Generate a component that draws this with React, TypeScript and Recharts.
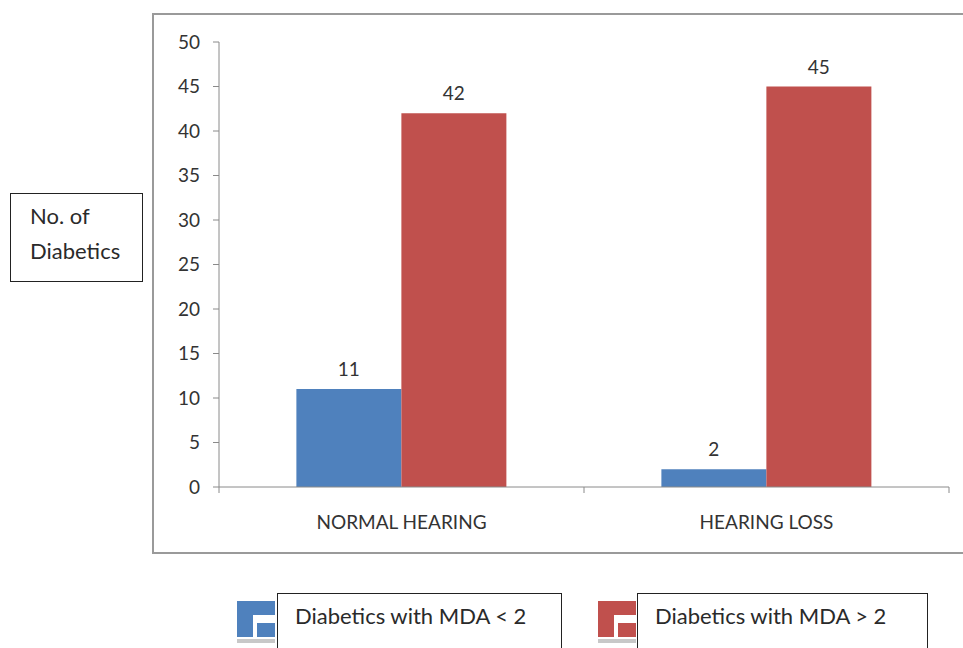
import React from 'react';
import { BarChart, Bar, XAxis, YAxis, LabelList } from 'recharts';

const categories = ['NORMAL HEARING', 'HEARING LOSS'];
const mdaBelow2 = [11, 2];
const mdaAbove2 = [42, 45];
const seriesNames = ['Diabetics with MDA < 2', 'Diabetics with MDA > 2'];
const seriesColors = ['#4F81BD', '#C0504D'];
const yTicks = [0, 5, 10, 15, 20, 25, 30, 35, 40, 45, 50];
const yAxisTitle = ['No. of', 'Diabetics'];

const data = categories.map((c, i) => ({ name: c, a: mdaBelow2[i], b: mdaAbove2[i] }));

const W = 963;
const H = 648;
const MARGIN = { top: 42, right: 14, bottom: 121, left: 159 };
const YW = 60;
const PLOT_LEFT = MARGIN.left + YW;
const PLOT_RIGHT = W - MARGIN.right;
const PLOT_BOTTOM = H - MARGIN.bottom - 40;
const BAND = (PLOT_RIGHT - PLOT_LEFT) / categories.length;
const FONT = 'Lato, "Open Sans", sans-serif';
const AXIS_COLOR = '#8a8a8a';
const TEXT_COLOR = '#333333';

const XTick = (props: any) => {
  const { x, payload, index } = props;
  const lines = [
    <line key="l" x1={x - BAND / 2} x2={x - BAND / 2} y1={PLOT_BOTTOM} y2={PLOT_BOTTOM + 6} stroke={AXIS_COLOR} strokeWidth={1} />,
  ];
  if (index === categories.length - 1) {
    lines.push(
      <line key="r" x1={x + BAND / 2} x2={x + BAND / 2} y1={PLOT_BOTTOM} y2={PLOT_BOTTOM + 6} stroke={AXIS_COLOR} strokeWidth={1} />
    );
  }
  return (
    <g>
      {lines}
      <text x={x} y={PLOT_BOTTOM + 42} textAnchor="middle" fill={TEXT_COLOR} fontSize={19} fontFamily={FONT}>
        {payload.value}
      </text>
    </g>
  );
};

const LegendIcon = ({ color }: { color: string }) => (
  <div style={{ position: 'relative', width: 38, height: 42 }}>
    <div style={{ position: 'absolute', left: 0, top: 0, width: 38, height: 36, background: color }} />
    <div style={{ position: 'absolute', left: 16, top: 14, width: 22, height: 8, background: '#ffffff' }} />
    <div style={{ position: 'absolute', left: 16, top: 14, width: 4, height: 22, background: '#ffffff' }} />
    <div style={{ position: 'absolute', left: 0, top: 38, width: 38, height: 4, background: '#c8c8c8' }} />
  </div>
);

export default function App() {
  const legendPos = [
    { icon: 237, box: 277, boxW: 285 },
    { icon: 598, box: 637, boxW: 291 },
  ];
  return (
    <div style={{ position: 'absolute', left: 0, top: 0, width: W, height: H, overflow: 'hidden', background: '#ffffff', fontFamily: FONT }}>
      <div style={{ position: 'absolute', left: 152, top: 13, width: 840, height: 537, border: '2px solid #9a9a9a' }} />
      <div
        style={{
          position: 'absolute', left: 10, top: 193, width: 133, height: 89, border: '1.5px solid #222',
          boxSizing: 'border-box', background: '#fff',
        }}
      >
        {yAxisTitle.map((t, i) => (
          <div key={i} style={{ position: 'absolute', left: 19, top: 8 + i * 35, fontSize: 22, color: '#2a2a2a', whiteSpace: 'nowrap' }}>
            {t}
          </div>
        ))}
      </div>
      <div style={{ position: 'absolute', left: 0, top: 0 }}>
        <BarChart width={W} height={H} data={data} margin={MARGIN} barCategoryGap="21.2%" barGap={0}>
          <YAxis
            width={YW}
            domain={[0, 50]}
            ticks={yTicks}
            interval={0}
            tickSize={6}
            tickMargin={13}
            axisLine={{ stroke: AXIS_COLOR }}
            tickLine={{ stroke: AXIS_COLOR }}
            tick={{ fill: TEXT_COLOR, fontSize: 19, fontFamily: FONT }}
          />
          <XAxis
            dataKey="name"
            height={40}
            tickLine={false}
            axisLine={{ stroke: AXIS_COLOR }}
            tick={<XTick />}
            interval={0}
          />
          <Bar dataKey="a" name={seriesNames[0]} fill={seriesColors[0]} isAnimationActive={false}>
            <LabelList dataKey="a" position="top" offset={13} fill={TEXT_COLOR} fontSize={19} fontFamily={FONT} />
          </Bar>
          <Bar dataKey="b" name={seriesNames[1]} fill={seriesColors[1]} isAnimationActive={false}>
            <LabelList dataKey="b" position="top" offset={13} fill={TEXT_COLOR} fontSize={19} fontFamily={FONT} />
          </Bar>
        </BarChart>
      </div>
      {seriesNames.map((n, i) => (
        <React.Fragment key={n}>
          <div style={{ position: 'absolute', left: legendPos[i].icon, top: 601 }}>
            <LegendIcon color={seriesColors[i]} />
          </div>
          <div
            style={{
              position: 'absolute', left: legendPos[i].box, top: 593, width: legendPos[i].boxW, height: 70,
              border: '1.5px solid #222', boxSizing: 'border-box', background: '#fff',
            }}
          >
            <div style={{ position: 'absolute', left: 17, top: 8, fontSize: 22, color: '#2a2a2a', whiteSpace: 'nowrap' }}>{n}</div>
          </div>
        </React.Fragment>
      ))}
    </div>
  );
}
